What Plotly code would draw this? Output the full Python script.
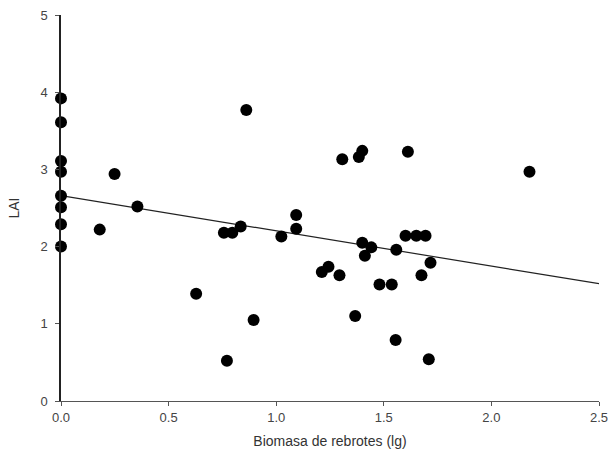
import plotly.graph_objects as go

# Shoot biomass (log) vs leaf area index
biomasa = [0.0, 0.0, 0.0, 0.0, 0.0, 0.0, 0.0, 0.0,
           0.18, 0.249, 0.355, 0.628, 0.757, 0.771, 0.796, 0.835, 0.861, 0.895,
           1.024, 1.093, 1.093, 1.212, 1.243, 1.294, 1.307, 1.367, 1.384, 1.40,
           1.40, 1.412, 1.442, 1.480, 1.537, 1.555, 1.558, 1.601, 1.612, 1.651,
           1.675, 1.694, 1.709, 1.717, 2.177]
lai = [3.92, 3.61, 3.11, 2.97, 2.66, 2.51, 2.29, 2.00,
       2.22, 2.94, 2.52, 1.39, 2.18, 0.52, 2.18, 2.26, 3.77, 1.05,
       2.13, 2.41, 2.23, 1.67, 1.74, 1.63, 3.13, 1.10, 3.16, 3.24,
       2.05, 1.88, 1.99, 1.51, 1.51, 0.79, 1.96, 2.14, 3.23, 2.14,
       1.63, 2.14, 0.54, 1.79, 2.97]

# Linear regression line
reg_x = [0.0, 2.5]
reg_intercept = 2.66
reg_slope = -0.456
reg_y = [reg_intercept + reg_slope * v for v in reg_x]

x_ticks = [0.0, 0.5, 1.0, 1.5, 2.0, 2.5]
y_ticks = [0, 1, 2, 3, 4, 5]

fig = go.Figure()
fig.add_trace(go.Scatter(
    x=reg_x, y=reg_y, mode="lines",
    line=dict(color="#222222", width=1.2),
    showlegend=False, hoverinfo="skip",
))
fig.add_trace(go.Scatter(
    x=biomasa, y=lai, mode="markers",
    marker=dict(color="black", size=12),
    cliponaxis=False, showlegend=False,
))

font = dict(family="Liberation Sans, Arial, sans-serif", color="#444444", size=13)

fig.update_layout(
    width=612, height=467,
    margin=dict(l=61, r=13, t=15, b=66),
    paper_bgcolor="white", plot_bgcolor="white",
    font=font,
    xaxis=dict(
        range=[0, 2.5], tickvals=x_ticks,
        ticktext=[f"{v:.1f}" for v in x_ticks],
        showgrid=False, zeroline=False, automargin=False,
        showline=True, linecolor="#555555", linewidth=1.2,
        ticks="outside", ticklen=4, tickcolor="#555555",
        title=dict(text="Biomasa de rebrotes (lg)", font=dict(size=14, color="#333333"), standoff=12),
    ),
    yaxis=dict(
        range=[0, 5], tickvals=y_ticks,
        showgrid=False, zeroline=False, automargin=False,
        showline=True, linecolor="#222222", linewidth=1.5,
        ticks="outside", ticklen=4, tickcolor="#555555", ticklabelstandoff=5,
        title=dict(text="LAI", font=dict(size=14, color="#333333"), standoff=18),
    ),
)

fig.write_html("out.html")
